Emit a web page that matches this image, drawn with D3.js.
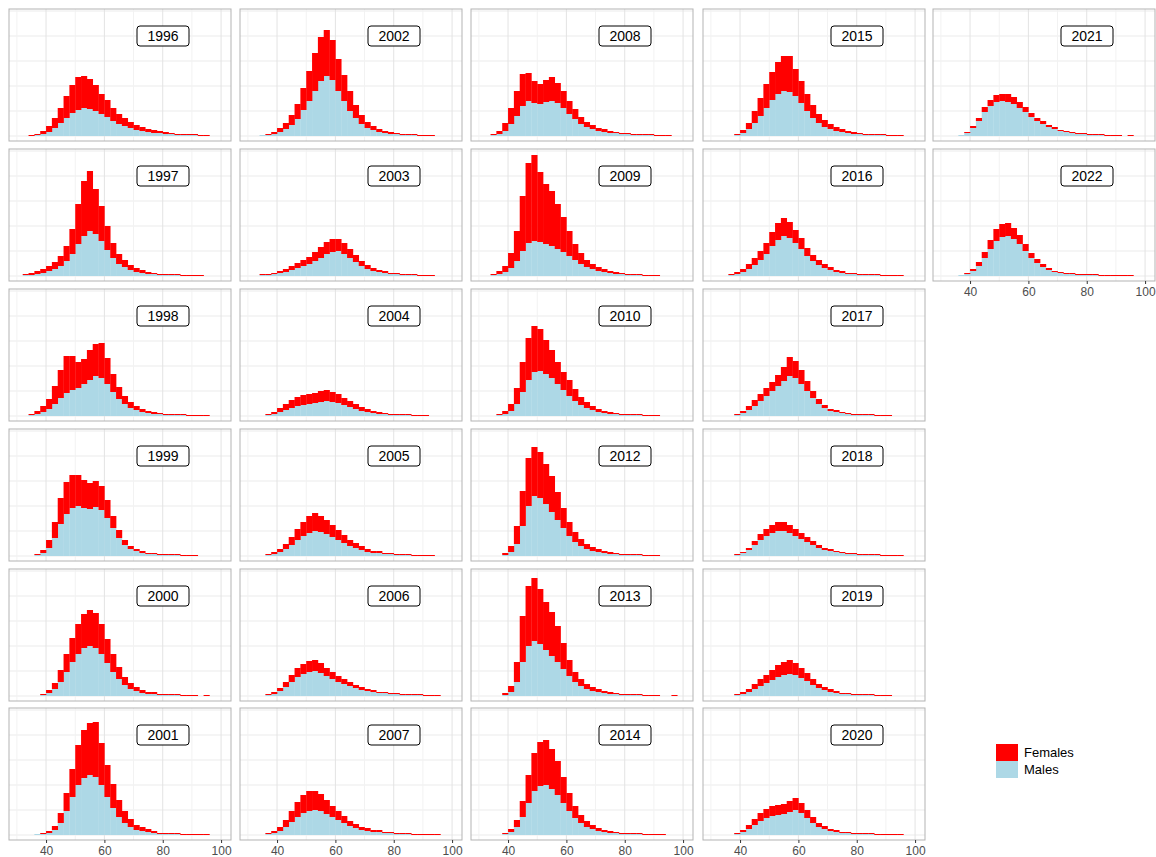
<!DOCTYPE html>
<html><head><meta charset="utf-8">
<script src="https://cdn.jsdelivr.net/npm/d3@7"></script>
<style>body{margin:0;background:#fff}svg{font-family:"Liberation Sans",Arial,sans-serif}</style>
</head><body><svg id="chart" width="1156" height="857"></svg>
<script>
// bins of 2 years, starting at 32
const binStart = 32, binWidth = 2;
const years = [1996,1997,1998,1999,2000,2001,2002,2003,2004,2005,2006,2007,2008,2009,2010,2012,2013,2014,2015,2016,2017,2018,2019,2020,2021,2022];

const males = {
1996:[0,0,1,2,4,8,13,18,23,26,28,27,25,22,19,15,12,10,8,6,5,4,3,3,2,2,1,1,1,1,0,0,0],
1997:[1,1,2,3,5,7,10,15,22,32,40,45,42,35,26,18,12,9,6,4,3,2,2,1,1,1,1,0,0,0,0,0,0],
1998:[0,1,2,4,7,12,18,23,26,28,32,36,40,38,32,24,17,12,8,6,4,3,2,2,1,1,1,1,0,0,0,0,0],
1999:[0,0,1,3,8,18,32,42,48,50,48,47,49,46,38,28,18,11,7,5,3,2,2,1,1,1,1,0,0,0,0,0,0],
2000:[0,0,0,1,3,7,14,24,34,42,48,50,48,42,33,24,17,11,7,5,3,2,2,1,1,1,1,0,0,0,0,0,0],
2001:[0,0,1,1,2,5,12,24,38,50,57,60,58,50,38,27,18,12,8,5,4,3,2,1,1,1,1,0,0,0,0,0,0],
2002:[0,1,1,2,4,7,11,17,26,35,45,55,60,56,45,35,25,18,12,8,6,4,3,2,2,1,1,1,0,0,0,0,0],
2003:[0,1,1,2,3,4,6,8,10,12,15,18,22,24,25,22,18,14,10,7,5,4,3,2,2,1,1,1,0,0,0,0,0],
2004:[0,0,1,2,4,6,8,10,11,12,13,14,15,14,13,11,9,7,5,4,3,2,2,1,1,1,1,0,0,0,0,0,0],
2005:[0,0,1,2,4,7,11,16,20,23,25,24,22,19,16,13,10,8,6,4,3,3,2,2,1,1,1,0,0,0,0,0,0],
2006:[0,0,1,2,5,9,14,19,22,24,25,23,20,17,14,12,10,8,6,5,4,3,3,2,2,1,1,1,1,0,0,0,0],
2007:[0,0,1,2,4,8,13,18,22,24,25,24,21,18,15,12,9,7,5,4,3,3,2,2,1,1,1,0,0,0,0,0,0],
2008:[0,1,2,5,12,20,30,35,33,32,34,35,33,28,22,17,12,9,7,5,4,3,3,2,2,1,1,1,1,0,0,0,0],
2009:[0,1,2,4,8,15,25,33,35,34,32,30,27,24,20,16,12,9,7,5,4,3,2,2,1,1,1,0,0,0,0,0,0],
2010:[0,0,1,2,5,12,24,36,44,45,42,38,32,26,20,15,11,8,6,4,3,2,2,1,1,1,1,0,0,0,0,0,0],
2012:[0,0,0,1,4,12,30,50,60,58,52,44,36,28,20,14,10,7,5,4,3,2,2,1,1,1,1,0,0,0,0,0,0],
2013:[0,0,0,1,4,14,34,50,55,52,46,40,34,27,20,14,10,7,5,4,3,2,2,1,1,1,1,0,0,0,0,0,0],
2014:[0,0,0,1,3,8,18,32,44,49,50,46,40,32,24,17,12,8,6,4,3,2,2,1,1,1,1,0,0,0,0,0,0],
2015:[0,0,0,1,3,7,13,20,28,36,42,45,44,40,33,25,18,13,9,7,5,4,3,2,2,1,1,1,1,0,0,0,0],
2016:[0,0,1,2,4,7,11,16,22,30,36,40,38,33,27,20,15,11,8,6,4,3,2,2,1,1,1,1,0,0,0,0,0],
2017:[0,0,0,1,3,6,10,15,20,25,30,35,40,38,32,25,18,12,8,5,4,3,2,1,1,1,1,0,0,0,0,0,0],
2018:[0,0,0,1,3,6,11,16,20,23,25,25,23,20,17,14,11,8,6,5,4,3,2,2,1,1,1,1,0,0,0,0,0],
2019:[0,0,0,1,2,4,7,10,13,16,19,21,22,21,18,15,11,8,6,4,3,2,2,1,1,1,1,0,0,0,0,0,0],
2020:[0,0,0,1,3,6,10,14,17,19,20,21,23,25,22,17,12,8,6,4,3,2,2,1,1,1,1,0,0,0,0,0,0],
2021:[0,0,1,3,8,15,24,30,34,35,34,32,28,24,19,15,12,9,7,5,4,3,2,2,1,1,1,0,0,0,0,0,0],
2022:[0,0,1,2,5,10,18,27,35,39,40,37,32,25,18,13,9,6,4,3,2,2,1,1,1,1,0,0,0,0,0,0,0]
};

const females = {
1996:[0,1,1,3,6,10,15,22,28,33,32,30,26,20,17,13,10,8,6,5,4,3,3,2,2,1,1,1,1,1,1,1,0],
1997:[1,2,3,4,5,7,10,15,25,40,55,60,45,35,24,15,10,7,5,4,3,2,1,1,1,1,1,1,1,1,1,0,0],
1998:[0,1,3,6,10,18,28,37,34,26,25,30,32,35,26,18,12,8,6,4,3,2,2,1,1,1,1,1,1,1,1,1,0],
1999:[0,0,1,3,8,16,26,32,33,31,28,26,26,24,18,12,8,5,3,2,2,1,1,1,1,1,1,1,1,1,0,0,0],
2000:[0,0,0,1,3,6,12,18,24,30,34,36,35,30,24,18,12,8,6,4,3,2,2,1,1,1,1,1,1,1,0,1,0],
2001:[0,0,0,1,2,4,10,18,28,40,48,52,55,42,32,24,17,12,8,5,4,3,2,1,1,1,1,1,1,1,1,1,0],
2002:[0,0,1,2,4,6,10,15,22,30,38,44,46,40,32,26,20,13,9,6,4,3,2,2,1,1,1,1,1,1,1,0,0],
2003:[0,1,1,1,2,3,4,5,6,7,9,11,12,13,12,11,9,7,5,4,3,2,2,1,1,1,1,1,1,1,1,0,0],
2004:[0,0,1,2,4,6,8,9,10,10,10,11,11,10,9,7,6,5,4,3,2,2,1,1,1,1,1,1,1,1,0,0,0],
2005:[0,0,1,2,3,5,8,11,14,17,18,16,14,12,10,8,6,5,4,3,2,2,1,1,1,1,1,1,1,1,1,0,0],
2006:[0,0,1,2,3,5,7,9,10,11,11,10,8,7,6,5,4,3,3,2,2,1,1,1,1,1,1,1,1,1,1,1,0],
2007:[0,0,1,2,4,7,11,15,18,20,19,17,14,11,9,7,5,4,3,3,2,2,1,1,1,1,1,1,1,1,1,1,0],
2008:[0,1,3,8,16,25,32,28,22,20,22,24,20,17,13,10,7,5,4,3,3,2,1,1,1,1,1,1,1,1,1,1,0],
2009:[0,1,3,6,15,30,55,80,86,70,60,55,45,35,25,16,11,7,5,4,3,2,2,1,1,1,1,1,1,1,0,0,0],
2010:[0,0,1,3,7,16,30,42,46,42,34,28,22,18,16,12,8,6,4,3,2,2,1,1,1,1,1,1,1,1,0,0,0],
2012:[0,0,0,2,6,18,35,48,49,46,40,36,28,20,14,10,7,5,4,3,2,2,1,1,1,1,1,1,1,1,0,0,0],
2013:[0,0,0,2,6,20,46,60,63,55,48,44,36,26,16,10,7,5,4,3,2,2,1,1,1,1,1,1,1,1,0,0,1],
2014:[0,0,0,1,3,7,16,28,38,44,45,40,34,26,18,12,8,6,4,3,2,2,1,1,1,1,1,1,1,1,1,0,0],
2015:[0,0,0,1,3,6,12,18,24,28,32,35,36,27,22,17,13,9,7,5,4,3,2,2,1,1,1,1,1,1,1,1,0],
2016:[0,0,1,2,3,5,7,9,11,14,17,18,16,13,11,8,6,5,4,3,2,2,1,1,1,1,1,1,1,1,1,1,0],
2017:[0,0,0,1,2,4,6,7,8,9,11,14,19,17,14,10,7,5,3,2,2,1,1,1,1,1,1,1,1,1,0,0,0],
2018:[0,0,0,1,1,2,4,6,7,8,9,9,8,7,6,5,4,3,2,2,1,1,1,1,1,1,1,1,1,1,1,1,0],
2019:[0,0,0,1,2,3,5,7,8,10,12,13,14,12,10,8,6,4,3,3,2,1,1,1,1,1,1,1,1,1,0,0,0],
2020:[0,0,0,1,2,4,6,8,9,10,10,10,11,12,10,8,6,4,3,2,2,1,1,1,1,1,1,1,1,1,1,1,0],
2021:[0,0,0,1,2,3,5,6,7,7,8,7,6,5,4,3,3,2,2,1,1,1,1,1,1,1,1,1,1,1,0,1,0],
2022:[0,0,0,1,2,4,6,9,12,13,13,11,9,7,5,4,3,2,1,1,1,1,1,1,1,1,1,1,1,1,1,1,0]
};

const xTicks = [40, 60, 80, 100];
const xMinor = [30, 50, 70, 90];
const yGrid = [0, 25, 50, 75, 100, 125];

const svg = d3.select("#chart");
const colX = [9, 240, 471, 703, 933], rowY = [9, 149, 289, 429, 569, 708];
const pw = 222, ph = 132;

years.forEach((yr, k) => {
  const col = Math.floor(k / 6), row = k % 6;
  const x0 = colX[col], y0 = rowY[row];
  const g = svg.append("g").attr("transform", `translate(${x0},${y0})`);
  const x = d3.scaleLinear().domain([27.3, 103.4]).range([0, pw]);
  const y = d3.scaleLinear().domain([0, 127]).range([127, 0]);

  yGrid.forEach(v => g.append("line").attr("x1", 0).attr("x2", pw).attr("y1", y(v)).attr("y2", y(v)).attr("stroke", "#ebebeb"));
  xMinor.forEach(v => g.append("line").attr("x1", x(v)).attr("x2", x(v)).attr("y1", 0).attr("y2", ph).attr("stroke", "#f2f2f2"));
  xTicks.forEach(v => g.append("line").attr("x1", x(v)).attr("x2", x(v)).attr("y1", 0).attr("y2", ph).attr("stroke", "#e3e3e3"));

  const m = males[yr], f = females[yr];
  g.selectAll("rect.m").data(m).join("rect")
    .attr("x", (d, i) => x(binStart + i * binWidth)).attr("width", x(binWidth) - x(0) + 0.3)
    .attr("y", d => y(d)).attr("height", d => y(0) - y(d)).attr("fill", "#add8e6");
  g.selectAll("rect.f").data(f).join("rect")
    .attr("x", (d, i) => x(binStart + i * binWidth)).attr("width", x(binWidth) - x(0) + 0.3)
    .attr("y", (d, i) => y(d + m[i])).attr("height", d => y(0) - y(d)).attr("fill", "#ff0000");

  g.append("rect").attr("width", pw).attr("height", ph).attr("fill", "none").attr("stroke", "#b3b3b3");

  g.append("rect").attr("x", 128).attr("y", 17).attr("width", 52).attr("height", 20).attr("rx", 3)
    .attr("fill", "#fff").attr("stroke", "#000");
  g.append("text").attr("x", 154).attr("y", 32).attr("text-anchor", "middle").attr("font-size", 14).text(yr);

  if (row === 5 || yr === 2022) {
    const ax = g.append("g").attr("transform", `translate(0,${ph})`)
      .call(d3.axisBottom(x).tickValues(xTicks).tickSize(3).tickPadding(3));
    ax.select(".domain").remove();
    ax.selectAll("line").attr("stroke", "#333");
    ax.selectAll("text").attr("font-size", 12).attr("fill", "#4d4d4d");
  }
});

const legend = [["Females", "#ff0000"], ["Males", "#add8e6"]];
legend.forEach((d, i) => {
  svg.append("rect").attr("x", 996).attr("y", 744 + i * 17).attr("width", 22).attr("height", 17).attr("fill", d[1]);
  svg.append("text").attr("x", 1024).attr("y", 757 + i * 17).attr("font-size", 13).text(d[0]);
});
</script></body></html>
